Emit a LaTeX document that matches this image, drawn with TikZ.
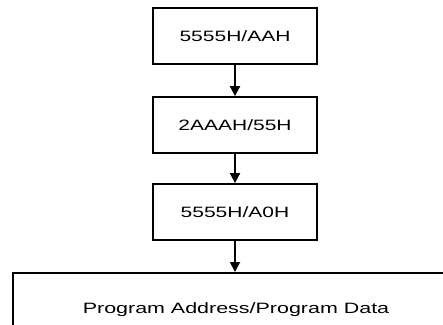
\documentclass[tikz,border=0pt]{standalone}
\usepackage{fontspec}
\setmainfont{Liberation Sans}
\usetikzlibrary{arrows.meta}
\begin{document}
\begin{tikzpicture}[x=1pt,y=-1pt,
  box/.style={draw,line width=1.8pt,rectangle,inner sep=0pt},
  lbl/.style={font=\fontsize{15}{15}\selectfont},
  conn/.style={line width=1.8pt,-{Triangle[length=10pt,width=10pt]}}]
\useasboundingbox (0,0) rectangle (443,324);
\begin{scope}
\clip (0,0) rectangle (443,324);
\node[box,minimum width=164pt,minimum height=56pt] (b1) at (235,36) {};
\node[lbl] at (b1.center) {\scalebox{1.4}[1]{5555H/AAH}};
\node[box,minimum width=164pt,minimum height=56pt] (b2) at (235,125) {};
\node[lbl] at (b2.center) {\scalebox{1.4}[1]{2AAAH/55H}};
\node[box,minimum width=164pt,minimum height=56pt] (b3) at (235,212) {};
\node[lbl] at (b3.center) {\scalebox{1.4}[1]{5555H/A0H}};
\node[box,minimum width=460pt,minimum height=80pt,anchor=north west] (b4) at (12,272) {};
\node[lbl] at (236,310) {\scalebox{1.43}[1]{Program Address/Program Data}};
\draw[conn] (b1.south) -- (b2.north);
\draw[conn] (b2.south) -- (b3.north);
\draw[conn] (b3.south) -- (b3.south |- b4.north);
\end{scope}
\end{tikzpicture}
\end{document}
